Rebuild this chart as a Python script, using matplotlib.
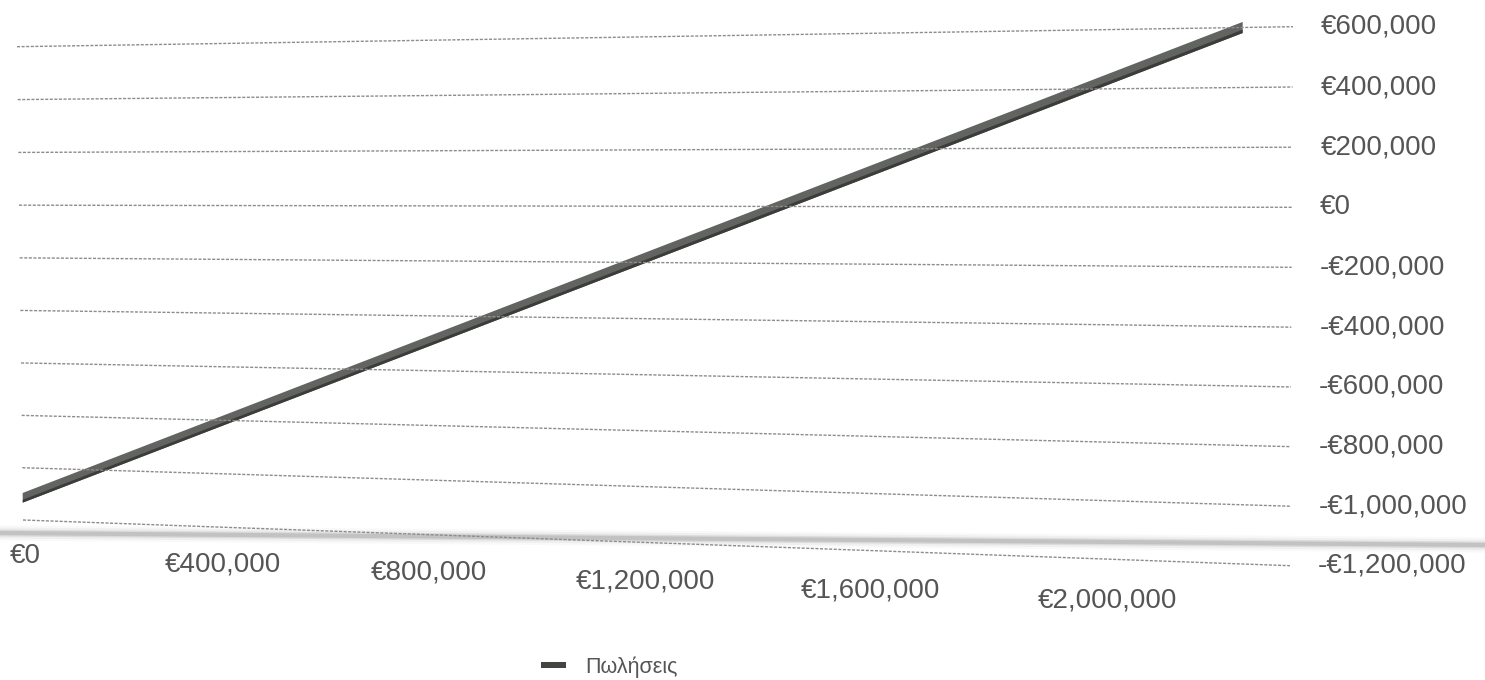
import numpy as np
import matplotlib
matplotlib.use("Agg")
import matplotlib.pyplot as plt
import matplotlib.transforms as mtransforms

# ---- data -------------------------------------------------------------
revenue = [0, 2_220_000]               # Πωλήσεις (x)
profit = [-1_115_000, 600_000]         # result (y)
series_name = "Πωλήσεις"
x_ticks = [0, 400_000, 800_000, 1_200_000, 1_600_000, 2_000_000]
y_ticks = [-1_200_000, -1_000_000, -800_000, -600_000, -400_000,
           -200_000, 0, 200_000, 400_000, 600_000]
x_range = (0, 2_300_000)
y_range = (-1_200_000, 600_000)

plt.rcParams["font.family"] = ["Liberation Sans", "DejaVu Sans"]
TEXT = "#555555"


def homography(src, dst):
    """3x3 matrix mapping the four src points onto the four dst points."""
    A, b = [], []
    for (u, w), (x, y) in zip(src, dst):
        A.append([u, w, 1, 0, 0, 0, -u * x, -w * x]); b.append(x)
        A.append([0, 0, 0, u, w, 1, -u * y, -w * y]); b.append(y)
    h = np.linalg.solve(np.array(A, float), np.array(b, float))
    return np.append(h, 1.0).reshape(3, 3)


class WallProjection(mtransforms.Transform):
    """Perspective projection of the (x, y) data plane onto the canvas."""
    input_dims = output_dims = 2
    is_separable = False
    has_inverse = False

    def __init__(self, H, xr, yr):
        super().__init__()
        self.H, self.xr, self.yr = H, xr, yr

    def transform_non_affine(self, values):
        v = np.asarray(values, float).reshape(-1, 2)
        u = (v[:, 0] - self.xr[0]) / (self.xr[1] - self.xr[0])
        w = (v[:, 1] - self.yr[0]) / (self.yr[1] - self.yr[0])
        P = np.column_stack([u, w, np.ones_like(u)]) @ self.H.T
        return P[:, :2] / P[:, 2:3]


W, Hpx = 1485, 680
fig = plt.figure(figsize=(W / 100, Hpx / 100), dpi=100)
fig.patch.set_facecolor("white")
ax = fig.add_axes([0, 0, 1, 1])
ax.set_xlim(0, W)
ax.set_ylim(Hpx, 0)
ax.set_autoscale_on(False)
ax.axis("off")

# back wall corners on the canvas (unit square -> canvas pixels)
H = homography([(0, 1), (1, 1), (0, 0), (1, 0)],
               [(17, 46.7), (1293, 26.7), (23, 520), (1290, 565.7)])
wall = WallProjection(H, x_range, y_range)
tr = wall + ax.transData

# floor edge shading
fx = np.array([0, W])
fy = np.array([533, 545])
for lw, a in [(11, 0.05), (8, 0.09), (5, 0.2), (3, 0.32)]:
    ax.plot(fx, fy, color="#8f8f8f", lw=lw, alpha=a, solid_capstyle="butt")

# gridlines + value labels
for v in y_ticks:
    ax.plot(x_range, [v, v], transform=tr, color="#8c8c8c", lw=1.0,
            linestyle=(0, (2.2, 1.1)))
    px, py = wall.transform([[x_range[1], v]])[0]
    lab = f"€{abs(v):,.0f}" if v >= 0 else f"-€{abs(v):,.0f}"
    ax.text(px + 28, py, lab, ha="left", va="center", fontsize=20, color=TEXT)

# category labels along the front edge
for xv in x_ticks:
    px, py = wall.transform([[xv, y_range[0]]])[0]
    frac = (xv - x_range[0]) / (x_range[1] - x_range[0])
    ax.text(px + 2, py + 36 + 6 * frac, f"€{xv:,.0f}", ha="center",
            va="center", fontsize=20, color=TEXT)

# the series as a 3-D looking ribbon
rev = np.array(revenue, float)
pr = np.array(profit, float)
d = 18_500
ax.fill(np.r_[rev, rev[::-1]], np.r_[pr - d, (pr + d)[::-1]],
        transform=tr, color="#626461", lw=0)
ax.fill(np.r_[rev, rev[::-1]], np.r_[pr - d, (pr - d * 0.4)[::-1]],
        transform=tr, color="#3c3d3a", lw=0)

# legend
ax.add_patch(plt.Rectangle((541, 662), 25, 5.5, color="#444441", lw=0))
ax.text(585, 667, series_name, ha="left", va="center", fontsize=15.5,
        color=TEXT)

fig.savefig("out.png", dpi=100, facecolor="white")
